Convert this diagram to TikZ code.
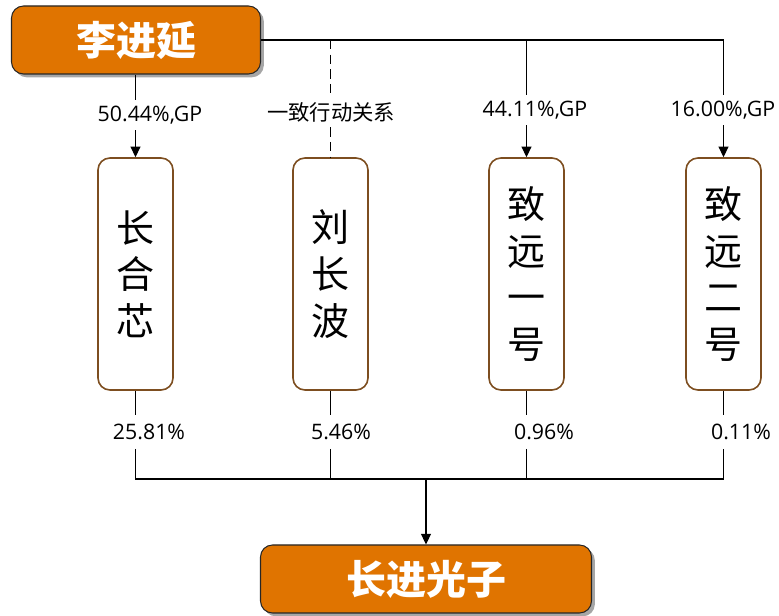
\documentclass[tikz,border=0pt]{standalone}
\usepackage{fontspec}
\setmainfont{Noto Sans CJK SC}
\newfontfamily\latinlab{Open Sans}
\usetikzlibrary{arrows.meta,shadows}
\definecolor{orangefill}{RGB}{224,116,0}
\definecolor{boxbrown}{RGB}{125,78,32}
\begin{document}
\begin{tikzpicture}[x=0.75pt,y=-0.75pt,
  orangebox/.style={draw=black!85, line width=0.8pt, fill=orangefill, rounded corners=9pt,
    drop shadow={shadow xshift=2.5pt, shadow yshift=-2.5pt, fill=black, opacity=0.35},
    text=white, font=\fontsize{30}{30}\bfseries\selectfont, inner sep=0pt},
  vbox/.style={draw=boxbrown, line width=1.2pt, rounded corners=9pt, minimum width=56.25pt,
    minimum height=174pt, inner sep=0pt, align=center, font=\fontsize{28.5}{35}\selectfont},
  numlab/.style={font=\latinlab\fontsize{16}{18}\selectfont, inner sep=0pt, minimum height=22.5pt},
  cnlab/.style={font=\fontsize{16}{18}\selectfont, inner sep=0pt, minimum height=22.5pt},
  botlab/.style={font=\latinlab\fontsize{16}{18}\selectfont, inner sep=0pt, minimum height=24.75pt},
  conn/.style={line width=0.9pt},
  dashconn/.style={conn, dash pattern=on 7pt off 4pt},
  arr/.style={conn, -{Triangle[length=8pt,width=7.5pt]}}]
\useasboundingbox (0,0) rectangle (779,616);

% top and bottom boxes
\node[orangebox, minimum width=186.75pt, minimum height=51pt] (top) at (136,40) {李进延};
\node[orangebox, minimum width=248.25pt, minimum height=51pt] (bot) at (426,579) {长进光子};

% middle boxes
\node[vbox] (b1) at (135.5,274) {长\\合\\芯};
\node[vbox] (b2) at (330.5,274) {刘\\长\\波};
\node[vbox] (b3) at (526.5,274) {致\\远\\一\\号};
\node[vbox] (b4) at (723.5,274) {致\\远\\二\\号};

% top labels
\node[numlab] (l1) at (150,115) {50.44\%,GP};
\node[cnlab]  (l2) at (331,112) {一致行动关系};
\node[numlab] (l3) at (535,110) {44.11\%,GP};
\node[numlab] (l4) at (723,110) {16.00\%,GP};

% bottom labels
\node[botlab] (m1) at (149,432) {25.81\%};
\node[botlab] (m2) at (341,432) {5.46\%};
\node[botlab] (m3) at (544,432) {0.96\%};
\node[botlab] (m4) at (741,432) {0.11\%};

% top connectors
\draw[conn] (top.east) -- (top.east -| b4);
\draw[conn] (top.south -| b1) -- (l1.north -| b1);
\draw[dashconn] (top.east -| b2) -- (l2.north -| b2);
\draw[conn] (top.east -| b3) -- (l3.north -| b3);
\draw[conn] (top.east -| b4) -- (l4.north -| b4);
\draw[arr] (l1.south -| b1) -- (b1.north);
\draw[dashconn] (l2.south -| b2) -- (b2.north);
\draw[arr] (l3.south -| b3) -- (b3.north);
\draw[arr] (l4.south -| b4) -- (b4.north);

% bottom connectors
\coordinate (bus) at (426,479);
\draw[conn] (b1.south) -- (m1.north -| b1);
\draw[conn] (b2.south) -- (m2.north -| b2);
\draw[conn] (b3.south) -- (m3.north -| b3);
\draw[conn] (b4.south) -- (m4.north -| b4);
\draw[conn] (m1.south -| b1) -- (b1 |- bus) -- (b4 |- bus) -- (m4.south -| b4);
\draw[conn] (m2.south -| b2) -- (b2 |- bus);
\draw[conn] (m3.south -| b3) -- (b3 |- bus);
\draw[arr] (bot.north |- bus) -- (bot.north);
\end{tikzpicture}
\end{document}
